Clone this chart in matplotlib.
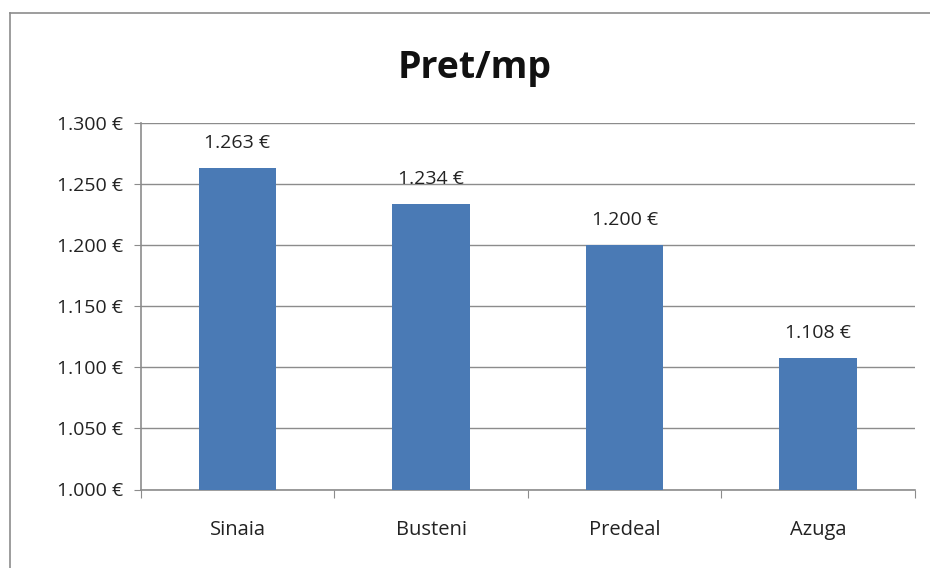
import matplotlib.pyplot as plt
from matplotlib.lines import Line2D
import numpy as np

plt.rcParams['font.family'] = ['Open Sans', 'DejaVu Sans']

# data
cities = ["Sinaia", "Busteni", "Predeal", "Azuga"]
prices = [1.263, 1.234, 1.200, 1.108]
y_ticks = [1.000, 1.050, 1.100, 1.150, 1.200, 1.250, 1.300]


def euro(v):
    return '%.3f €' % v


fig = plt.figure(figsize=(9.3, 5.68), dpi=100)
ax = fig.add_axes([140.7 / 930, 1 - 489.5 / 568, (915 - 140.7) / 930, (489.5 - 123.3) / 568])

x = np.arange(len(cities))
rects = ax.bar(x, [p - 1.0 for p in prices], bottom=1.0, width=0.40,
               color='#4a7ab5', zorder=3)

for rect, p in zip(rects, prices):
    ax.text(rect.get_x() + rect.get_width() / 2, p + 0.0165, euro(p),
            ha='center', va='baseline', fontsize=14, color='#222222')

ax.set_xlim(-0.5, len(cities) - 0.5)
ax.set_ylim(1.0, 1.3)
ax.set_yticks(y_ticks)
ax.set_yticklabels([euro(v) for v in y_ticks], fontsize=14, color='#222222')
ax.yaxis.grid(True, color='#8c8c8c', linewidth=1.0, zorder=0)

# category boundaries get the x tick marks
ax.set_xticks(np.arange(-0.5, len(cities), 1.0))
ax.set_xticklabels([])
ax.set_xticks(x, minor=True)
ax.set_xticklabels(cities, minor=True, fontsize=14.5, color='#222222')
ax.tick_params(axis='x', which='major', length=6, color='#8c8c8c', direction='out')
ax.tick_params(axis='x', which='minor', length=0, pad=22)
ax.tick_params(axis='y', length=5, color='#8c8c8c', direction='out', pad=8)

for side in ['top', 'right']:
    ax.spines[side].set_visible(False)
for side in ['left', 'bottom']:
    ax.spines[side].set_color('#8c8c8c')
    ax.spines[side].set_linewidth(1.2)

fig.text(475 / 930, 1 - 78 / 568, "Pret/mp", ha='center', va='baseline',
         fontsize=27, fontweight='bold', color='#111111')

# chart frame (cropped)
fig.add_artist(Line2D([10 / 930, 1.0], [1 - 13 / 568, 1 - 13 / 568],
                      color='#8c8c8c', linewidth=1.2))
fig.add_artist(Line2D([10 / 930, 10 / 930], [0.0, 1 - 13 / 568],
                      color='#8c8c8c', linewidth=1.2))

fig.savefig('out.png', dpi=100)
